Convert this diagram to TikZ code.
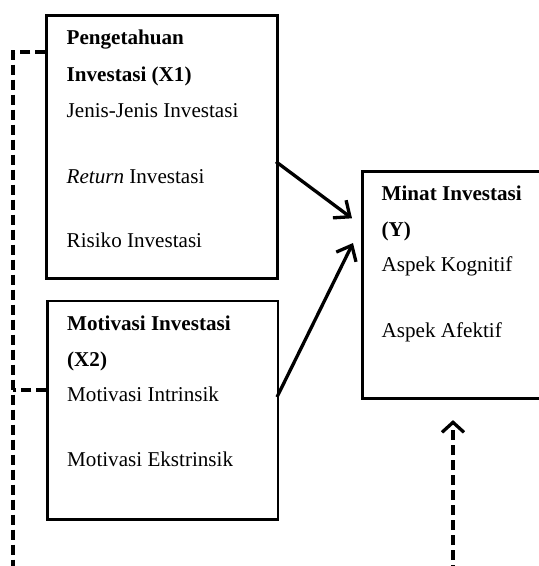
\documentclass[tikz,border=0pt]{standalone}
\usepackage{fontspec}
\setmainfont{Liberation Serif}
\usetikzlibrary{arrows.meta,calc}
\begin{document}
\begin{tikzpicture}[x=1pt,y=-1pt,
  box/.style={draw,line width=2.8pt,rectangle,anchor=north west,inner sep=0pt},
  lbl/.style={anchor=base west,inner sep=0pt,font=\fontsize{21.1}{24}\selectfont},
  hd/.style={lbl,font=\fontsize{21.1}{24}\selectfont\bfseries},
  solidarrow/.style={line width=3.3pt,-{Straight Barb[length=13pt,width=22pt,line width=3.3pt]}},
  dashline/.style={line width=3.4pt,dash pattern=on 10pt off 5pt},
  dasharrow/.style={dashline,-{Straight Barb[length=10pt,width=22pt,line width=3.3pt]}}]
\useasboundingbox (0,0) rectangle (539,566);
\clip (0,0) rectangle (539,566);
\fill[white] (0,0) rectangle (539,566);
% boxes
\node[box,minimum width=230.7pt,minimum height=263pt] (x1) at (45.3,13.7) {};
\node[box,minimum width=230.2pt,minimum height=218.5pt] (x2) at (46.3,299.5) {};
\node[box,minimum width=220pt,minimum height=227.6pt] (y) at (361,169.7) {};
% texts X1
\node[hd] (t11) at (66.5,44) {Pengetahuan};
\node[hd] (t12) at (66.5,81.5) {Investasi (X1)};
\node[lbl] (t13) at (66.5,117) {Jenis-Jenis Investasi};
\node[lbl] (t14) at (66.5,183) {\textit{Return} Investasi};
\node[lbl] (t15) at (66.5,247) {Risiko Investasi};
% texts X2
\node[hd] (t21) at (67,330) {Motivasi Investasi};
\node[hd] (t22) at (67,366.5) {(X2)};
\node[lbl] (t23) at (67,401.5) {Motivasi Intrinsik};
\node[lbl] (t24) at (67,466) {Motivasi Ekstrinsik};
% texts Y
\node[hd] (t31) at (381.5,200) {Minat Investasi};
\node[hd] (t32) at (381.5,236.5) {(Y)};
\node[lbl] (t33) at (381.5,271) {Aspek Kognitif};
\node[lbl] (t34) at (381.5,337) {Aspek Afektif};
% coordinates
\coordinate (a1s) at (276,161.7);
\coordinate (a1e) at (352,218.3);
\coordinate (a2s) at (277,397);
\coordinate (a2e) at (353,243);
\coordinate (lc) at (13,52);
\coordinate (lb) at (13,575);
\coordinate (rb) at (453,575);
% solid arrows
\draw[solidarrow] (a1s) -- (a1e);
\draw[solidarrow] (a2s) -- (a2e);
% dashed lines
\draw[dashline] (x1.west |- lc) -- (lc) -- (lb);
\draw[dashline] (x2.west |- 0,390) -- (lc |- 0,390);
\draw[dasharrow] (rb) -- ($(y.south -| rb)+(0,20)$);
\end{tikzpicture}
\end{document}
